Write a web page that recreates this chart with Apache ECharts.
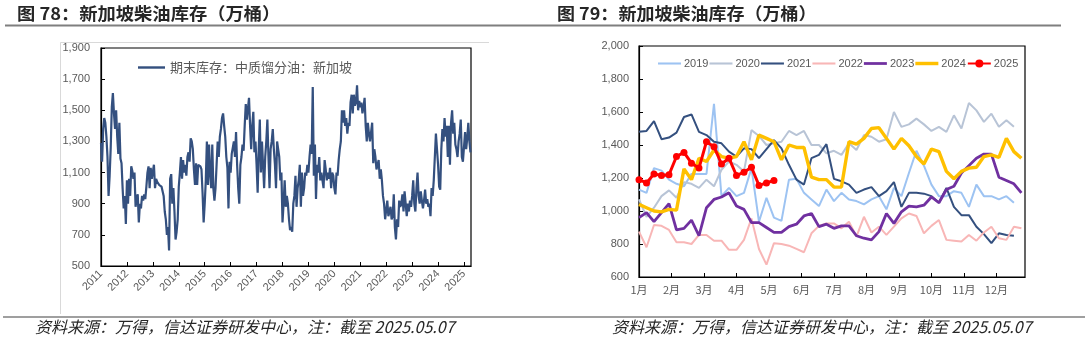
<!DOCTYPE html>
<html><head><meta charset="utf-8">
<script src="https://cdn.jsdelivr.net/npm/echarts@6/dist/echarts.min.js"></script>
<style>html,body{margin:0;padding:0;background:#fff}#c{width:1088px;height:342px}</style>
</head><body><div id="c"></div>
<script>
// ---- Left chart: Singapore middle distillate stocks, semi-monthly readings (万桶)
const sg2011 = [1290,1170,1380,1450,1420,1330,1200,950,1080,1260,1520,1610,1480,1380,1500,1330,1220,1420,1190,1160,1000,870,950,770];
const sg2012 = [1050,900,1060,950,1140,1110,1060,1100,880,930,960,780,900,870,950,920,960,930,1010,1100,1140,1000,1130,1060];
const sg2013 = [1060,1150,1000,1060,1040,1030,1020,1030,1010,1020,950,850,800,700,750,600,1060,1090,900,1000,850,670,720,800];
const sg2014 = [1010,1100,1200,1060,1180,1100,1150,1080,1200,1230,1170,1320,1300,1250,1120,1020,1160,1020,1150,1150,1140,1120,970,780];
const sg2015 = [900,1050,1300,1020,1280,1100,1000,1280,1000,920,1000,1150,1300,1200,1330,1380,1450,1480,1400,1330,1200,1130,870,1170];
const sg2016 = [1100,1220,1260,1300,1200,1360,1150,1000,900,1150,1200,1280,1240,1400,1540,1440,1510,1580,1400,1250,1400,1490,1230,1300];
const sg2017 = [1150,970,1250,1440,1100,1300,1150,1000,1200,1300,1440,1200,1000,1250,1300,1380,1250,1150,1000,1300,1250,1200,1050,1100];
const sg2018 = [780,900,1050,880,950,900,800,730,750,720,900,950,1080,880,1000,1050,1150,880,1100,950,1000,1100,1080,1150];
const sg2019 = [1100,1200,1280,1220,1650,1080,1280,930,1150,1100,1200,1050,1100,1050,1000,1180,1120,1050,1100,1060,1130,1000,1100,1080];
const sg2020 = [1000,960,1100,1080,1180,1250,1300,1500,1420,1500,1400,1450,1350,1420,1400,1550,1600,1480,1600,1530,1550,1660,1500,1560];
const sg2021 = [1520,1550,1480,1520,1580,1400,1300,1420,1350,1300,1360,1420,1160,1250,1200,1120,1150,1180,1060,1120,1050,950,900,800];
const sg2022 = [810,920,820,850,880,800,820,960,750,670,800,750,920,880,900,960,850,980,900,820,900,850,920,880];
const sg2023 = [950,1050,900,850,1000,1100,950,900,980,920,870,920,990,900,930,880,900,820,1000,950,1050,1200,1350,1250];
const sg2024 = [1150,1010,990,1250,1380,1300,1450,1330,1400,1200,1400,1150,1420,1500,1350,1420,1280,1250,1200,1300,1350,1440,1200,1170];
const sg2025 = [1180,1360,1250,1320,1420,1300,1230];
const leftSeriesName = '期末库存：中质馏分油：新加坡';
const leftStartYear = 2011;

// ---- Right chart: seasonal weekly readings (万桶)
const months = ['1月','2月','3月','4月','5月','6月','7月','8月','9月','10月','11月','12月'];
const seasonNames = ['2019','2020','2021','2022','2023','2024','2025'];
const y2019 = [1130,1110,1260,1245,1190,1165,1150,1225,1225,1225,1650,1090,1140,1090,1110,1260,935,1080,960,940,1190,1195,1110,1070,
               1030,1130,1060,1110,1070,1060,1040,1070,1090,1010,1140,1090,1230,1365,1275,1160,1090,1090,1120,1110,1025,1160,1090,1090,1070,1090,1050];
const y2020 = [1070,965,1020,1090,1125,1080,1175,1165,1140,1190,1150,1250,1300,1280,1240,1490,1455,1400,1410,1420,1485,1460,1485,1400,
               1400,1350,1365,1340,1410,1370,1460,1450,1420,1435,1600,1510,1525,1560,1525,1485,1510,1480,1580,1500,1655,1610,1540,1590,1510,1550,1510];
const y2021 = [1480,1485,1545,1435,1445,1475,1570,1585,1480,1460,1420,1410,1360,1330,1380,1375,1320,1375,1430,1380,1280,1190,1160,1320,
               1340,1405,1195,1180,1160,1110,1130,1145,1090,1120,1175,1025,1110,1110,1105,1090,1050,1140,1025,975,975,905,860,805,865,855,850];
const y2022 = [875,780,915,910,885,810,810,800,855,855,820,820,765,765,825,955,770,675,805,800,790,770,750,865,
               910,925,925,895,935,845,965,870,905,855,905,955,985,970,865,910,945,825,820,815,855,820,870,905,835,825,905,895];
const y2023 = [960,990,935,990,1045,885,895,945,850,1020,1070,1085,1110,1030,1010,930,930,900,870,870,905,920,970,985,
               905,920,895,910,910,850,835,825,875,985,925,995,1030,1025,1035,1085,1050,1130,1150,1230,1275,1320,1345,1345,1205,1185,1165,1110];
const y2024 = [1040,1020,1000,995,1010,1005,1255,1190,1320,1300,1370,1330,1320,1330,1420,1310,1460,1440,1420,1310,1400,1385,1385,1205,
               1190,1190,1145,1145,1420,1405,1440,1500,1505,1440,1375,1440,1395,1330,1285,1375,1360,1240,1195,1240,1260,1265,1330,1340,1325,1440,1360,1320];
const y2025 = [1190,1170,1225,1215,1220,1330,1355,1290,1260,1420,1390,1285,1320,1215,1235,1265,1155,1170,1185];
const seasonData = [y2019,y2020,y2021,y2022,y2023,y2024,y2025];
const seasonColors = ['#9DC3F2','#B8C4D6','#34507F','#F8B6B6','#7030A0','#FFC000','#FF0000'];
const seasonWidths = [2,2,2,2,2.8,3.4,3];

const titleLeft = '图 78：新加坡柴油库存（万桶）';
const titleRight = '图 79：新加坡柴油库存（万桶）';
const footText = '资料来源：万得，信达证券研发中心，注：截至 2025.05.07';

// ---- build
const leftValues = [].concat(sg2011,sg2012,sg2013,sg2014,sg2015,sg2016,sg2017,sg2018,sg2019,sg2020,sg2021,sg2022,sg2023,sg2024,sg2025);
const leftData = leftValues.map((v,i)=>[leftStartYear + i/24, v]);
const weeksPerYear = 52;

const numFont = 'Liberation Sans';
const cjk = 'Noto Sans CJK SC';
const grey = '#595959';
const fmtThousands = v => v.toLocaleString('en-US');
const lineIcon = h => 'path://M0,0H100V' + h + 'H0Z';

const chart = echarts.init(document.getElementById('c'), null, {renderer:'canvas'});

const seasonSeries = seasonNames.map((n,k)=>({
  name:n, type:'line', xAxisIndex:1, yAxisIndex:1,
  data: seasonData[k].map((v,i)=>[i*12/weeksPerYear, v]),
  showSymbol: n==='2025', symbol: n==='2025' ? 'circle' : 'none', symbolSize: 7,
  itemStyle:{color:seasonColors[k]},
  lineStyle:{color:seasonColors[k], width:seasonWidths[k]},
  z: 2+k, animation:false
}));

const option = {
  animation:false,
  backgroundColor:'#fff',
  grid:[
    {left:101, top:48, width:370, height:218, show:true, borderColor:'#000', borderWidth:1.2},
    {left:639, top:46, width:386, height:231, show:true, borderColor:'#000', borderWidth:1.2}
  ],
  legend:[
    {data:[{name:leftSeriesName, icon:lineIcon(9)}], left:133, top:56, itemWidth:27, itemHeight:10,
     textStyle:{fontFamily:cjk, fontSize:13, color:grey}},
    {data:seasonNames.map((n,k)=> n==='2025' ? {name:n} : {name:n, icon:lineIcon(Math.round(seasonWidths[k]*4.3))}),
     left:653, top:53, itemWidth:23, itemHeight:10, itemGap:1,
     textStyle:{fontFamily:numFont, fontSize:11, color:grey, padding:[0,0,0,-2]}}
  ],
  xAxis:[
    {type:'value', gridIndex:0, min:2011, max:2025.27, interval:1,
     axisLine:{lineStyle:{color:'#000', width:1.2}},
     axisTick:{inside:true, length:4, lineStyle:{color:'#000'}},
     splitLine:{show:false},
     axisLabel:{rotate:45, margin:6, fontFamily:numFont, fontSize:11, color:grey, showMaxLabel:false,
       formatter:v=> Math.abs(v-Math.round(v))<0.01 ? String(Math.round(v)) : ''}},
    {type:'value', gridIndex:1, min:0, max:11.88, interval:1,
     axisLine:{lineStyle:{color:'#000', width:1.2}},
     axisTick:{inside:true, length:4, lineStyle:{color:'#000'}},
     splitLine:{show:false},
     axisLabel:{margin:7, fontFamily:cjk, fontSize:11, color:grey, showMaxLabel:false,
       formatter:v=> Math.abs(v-Math.round(v))<0.01 ? (months[Math.round(v)]||'') : ''}}
  ],
  yAxis:[
    {type:'value', gridIndex:0, min:500, max:1900, interval:200,
     axisLine:{show:true, lineStyle:{color:'#000', width:1.2}},
     axisTick:{show:true, inside:true, length:4, lineStyle:{color:'#000'}},
     splitLine:{show:false},
     axisLabel:{margin:11, fontFamily:numFont, fontSize:11, color:grey, formatter:fmtThousands}},
    {type:'value', gridIndex:1, min:600, max:2000, interval:200,
     axisLine:{show:true, lineStyle:{color:'#000', width:1.2}},
     axisTick:{show:true, inside:true, length:4, lineStyle:{color:'#000'}},
     splitLine:{show:false},
     axisLabel:{margin:10, fontFamily:numFont, fontSize:11, color:grey, formatter:fmtThousands}}
  ],
  series:[
    {name:leftSeriesName, type:'line', xAxisIndex:0, yAxisIndex:0, data:leftData,
     showSymbol:false, symbol:'none', itemStyle:{color:'#34507F'},
     lineStyle:{color:'#34507F', width:2.2}, z:3}
  ].concat(seasonSeries),
  graphic:[
    {type:'text', x:17, y:5, scaleX:1.075, style:{text:titleLeft, font:'bold 17px "Noto Sans CJK SC"', fill:'#262626'}},
    {type:'text', x:557, y:5, scaleX:1.06, style:{text:titleRight, font:'bold 17px "Noto Sans CJK SC"', fill:'#262626'}},
    {type:'line', shape:{x1:5, y1:25.5, x2:1061, y2:25.5}, style:{stroke:'#7f7f7f', lineWidth:2}},
    {type:'polyline', shape:{points:[[489,42.5],[60.5,42.5],[60.5,314]]}, style:{stroke:'#d9d9d9', lineWidth:1, fill:null}},
    {type:'line', shape:{x1:3, y1:317, x2:1085, y2:317}, style:{stroke:'#7f7f7f', lineWidth:1.5}},
    {type:'text', x:35, y:319, style:{text:footText, font:'italic 16px "Noto Sans CJK SC"', fill:'#262626'}},
    {type:'text', x:612, y:319, style:{text:footText, font:'italic 16px "Noto Sans CJK SC"', fill:'#262626'}}
  ]
};
chart.setOption(option);
</script>
</body></html>
